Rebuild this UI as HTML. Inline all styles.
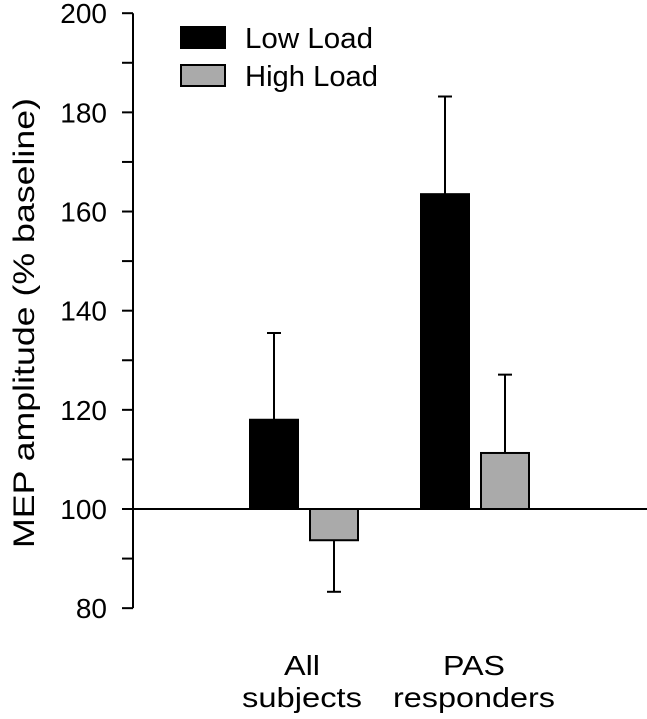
<!DOCTYPE html>
<html><head><meta charset="utf-8"><style>
body{margin:0;background:#fff;}
svg{display:block;font-family:"Liberation Sans",Arial,sans-serif;}
</style></head><body>
<svg id="chart" width="647" height="719"></svg>
<script>
const categories = ["All subjects", "PAS responders"];
const lowLoad = [118, 163.5];
const highLoad = [93.7, 111.3];
const lowErr = [17.5, 19.7];
const highErr = [10.4, 15.8];
const yTicks = [80, 100, 120, 140, 160, 180, 200];

const NS = "http://www.w3.org/2000/svg";
const svg = document.getElementById("chart");
function y(v){ return 509 - (v - 100) * 4.958; }
const groupCenters = [302, 474];
function mk(tag, attrs, parent){ const e=document.createElementNS(NS,tag); for(const k in attrs) e.setAttribute(k,attrs[k]); (parent||svg).appendChild(e); return e; }

const ax = mk("line",{x1:133,y1:y(200),x2:133,y2:y(80),stroke:"#000","stroke-width":2});


for(let v=80; v<=200; v+=10){
  const t = mk("line",{x1:122,y1:y(v),x2:133,y2:y(v),stroke:"#000","stroke-width":2});
  
  
}
yTicks.forEach(v=>{
  const t = mk("text",{x:107,y:y(v)+10,"text-anchor":"end","font-size":28});
  t.textContent = v;
  
  
});
const base = mk("line",{x1:133,y1:y(100),x2:647,y2:y(100),stroke:"#000","stroke-width":2});



const yt = mk("text",{x:0,y:0,"text-anchor":"middle","font-size":30,textLength:450,lengthAdjust:"spacingAndGlyphs",transform:"translate(34,323) rotate(-90)"});
yt.textContent = "MEP amplitude (% baseline)";



function bar(cx, v, err, fill, name){
  const top = Math.min(y(v), y(100)), bot = Math.max(y(v), y(100));
  const r = mk("rect",{x:cx-24,y:top,width:48,height:bot-top,fill:fill,stroke:"#000","stroke-width":2});
  
  
  const dir = v >= 100 ? 1 : -1;
  const e1 = y(v), e2 = y(v + dir*err);
  const el = mk("line",{x1:cx,y1:e1,x2:cx,y2:e2,stroke:"#000","stroke-width":2});
  
  
  const cap = mk("line",{x1:cx-7,y1:e2,x2:cx+7,y2:e2,stroke:"#000","stroke-width":2});
  
  
}
const labelWidths = [[36,120],[62,162]];
categories.forEach((c,i)=>{
  const cx = [304,475][i];
  bar(cx-30, lowLoad[i], lowErr[i], "#000", "bar-low-load-" + (i+1));
  bar(cx+30, highLoad[i], highErr[i], "#aaa", "bar-high-load-" + (i+1));
  const parts = c.split(" ");
  parts.forEach((p,j)=>{
    const t = mk("text",{x:groupCenters[i],y:675+j*32,"text-anchor":"middle","font-size":28,textLength:labelWidths[i][j],lengthAdjust:"spacingAndGlyphs"});
    t.textContent = p;
    
    
  });
});

const l1 = mk("rect",{x:181,y:27,width:44,height:21,fill:"#000",stroke:"#000","stroke-width":2});


const l2 = mk("rect",{x:181,y:65,width:44,height:21,fill:"#aaa",stroke:"#000","stroke-width":2});


const lt1 = mk("text",{x:245,y:48,"font-size":29,textLength:128,lengthAdjust:"spacingAndGlyphs"}); lt1.textContent="Low Load";


const lt2 = mk("text",{x:245,y:86,"font-size":29,textLength:133,lengthAdjust:"spacingAndGlyphs"}); lt2.textContent="High Load";


</script>
</body></html>
